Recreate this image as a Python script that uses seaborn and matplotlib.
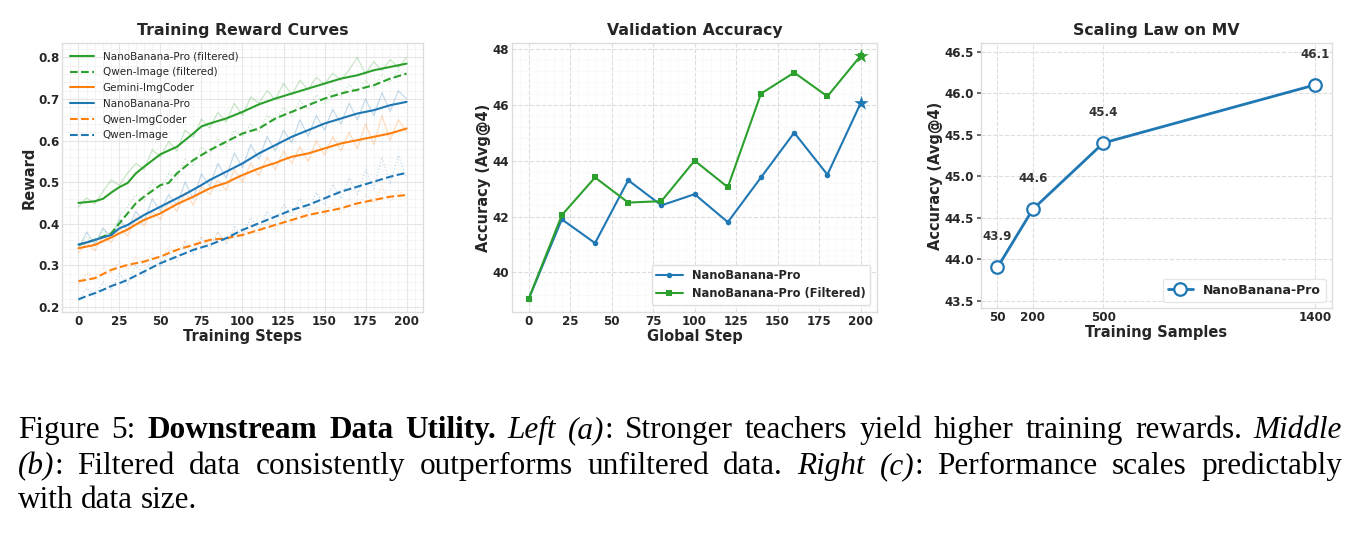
import numpy as np
import pandas as pd
import matplotlib
matplotlib.use('Agg')
import matplotlib.pyplot as plt
import seaborn as sns
from matplotlib.ticker import AutoMinorLocator, MultipleLocator

# ---------------- data ----------------
# (a) training reward curves, read every 5 steps
steps = list(range(0, 201, 5))

nb_filt_smooth = [.450, .452, .454, .460, .475, .488, .498, .521, .537, .552, .567, .576, .585, .601,
                  .617, .634, .641, .647, .653, .661, .669, .678, .687, .694, .701, .707, .713, .719,
                  .725, .731, .737, .743, .749, .753, .757, .763, .769, .773, .777, .781, .785]
nb_filt_raw = [.440, .462, .448, .478, .505, .492, .522, .545, .530, .578, .560, .598, .575, .625,
               .608, .652, .630, .668, .645, .690, .660, .705, .690, .720, .698, .738, .710, .745,
               .722, .752, .735, .762, .745, .770, .800, .760, .790, .768, .795, .775, .800]

qi_filt_smooth = [.349, .355, .361, .369, .377, .401, .425, .449, .465, .479, .493, .498, .521, .537,
                  .553, .565, .577, .587, .597, .607, .617, .623, .629, .641, .653, .661, .669, .677,
                  .685, .693, .701, .707, .713, .718, .722, .728, .733, .741, .749, .755, .761]
qi_filt_raw = [.340, .368, .352, .385, .372, .420, .440, .470, .455, .500, .485, .520, .510, .555,
               .540, .585, .565, .605, .585, .625, .610, .640, .620, .660, .645, .680, .660, .695,
               .675, .710, .690, .725, .705, .735, .715, .745, .725, .760, .740, .770, .755]

gem_smooth = [.341, .345, .349, .358, .367, .377, .386, .398, .409, .417, .425, .436, .447, .456,
              .465, .475, .485, .492, .498, .508, .517, .525, .533, .540, .546, .554, .561, .565,
              .569, .575, .581, .587, .593, .597, .601, .605, .609, .613, .617, .623, .629]
gem_raw = [.330, .355, .335, .370, .355, .390, .370, .415, .395, .430, .410, .455, .430, .475,
           .445, .490, .470, .505, .480, .530, .500, .545, .515, .560, .530, .575, .545, .585,
           .550, .600, .565, .610, .575, .620, .580, .640, .590, .660, .600, .650, .620]

nb_smooth = [.350, .355, .361, .367, .373, .389, .397, .409, .421, .431, .441, .451, .461, .471,
             .482, .493, .505, .515, .525, .535, .545, .557, .569, .579, .589, .599, .609, .617,
             .625, .633, .641, .647, .653, .659, .665, .669, .673, .679, .685, .689, .693]
nb_raw = [.340, .380, .350, .390, .365, .410, .385, .430, .405, .460, .430, .470, .445, .500,
          .460, .520, .490, .545, .510, .570, .535, .590, .555, .610, .575, .625, .595, .650,
          .610, .660, .625, .675, .640, .690, .650, .700, .660, .715, .670, .720, .700]

qic_smooth = [.262, .265, .269, .279, .289, .295, .301, .305, .309, .315, .321, .329, .337, .343,
              .349, .355, .361, .363, .365, .369, .373, .379, .385, .391, .397, .403, .409, .415,
              .421, .425, .429, .433, .437, .443, .449, .453, .457, .461, .465, .467, .469]
qic_raw = [.255, .280, .270, .295, .280, .310, .290, .320, .300, .330, .310, .345, .330, .360,
           .340, .370, .350, .380, .355, .385, .365, .395, .375, .405, .385, .420, .400, .430,
           .410, .440, .420, .450, .425, .460, .440, .470, .450, .490, .455, .480, .460]

qi_smooth = [.218, .226, .233, .241, .250, .257, .265, .275, .285, .295, .305, .313, .321, .329,
             .337, .343, .349, .357, .365, .375, .385, .393, .401, .409, .417, .425, .433, .439,
             .445, .453, .461, .469, .477, .483, .489, .495, .501, .507, .513, .518, .522]
qi_raw = [.215, .245, .225, .260, .240, .280, .255, .300, .275, .320, .295, .335, .310, .355,
          .325, .365, .340, .380, .350, .395, .370, .415, .385, .430, .400, .445, .420, .460,
          .430, .475, .445, .495, .460, .510, .470, .530, .485, .560, .495, .565, .510]

# (b) validation accuracy
global_steps = [0, 20, 40, 60, 80, 100, 120, 140, 160, 180, 200]
val_nb = [39.05, 41.9, 41.05, 43.3, 42.4, 42.8, 41.8, 43.4, 45.0, 43.5, 46.05]
val_nb_filt = [39.05, 42.05, 43.4, 42.5, 42.55, 44.0, 43.05, 46.4, 47.15, 46.3, 47.75]

# (c) scaling law
samples = [50, 200, 500, 1400]
mv_acc = [43.9, 44.6, 45.4, 46.1]

BLUE, ORANGE, GREEN = '#1f77b4', '#ff7f0e', '#2ca02c'

curves = [  # label, smooth, raw, color, dashed
    ('NanoBanana-Pro (filtered)', nb_filt_smooth, nb_filt_raw, GREEN, False),
    ('Qwen-Image (filtered)', qi_filt_smooth, qi_filt_raw, GREEN, True),
    ('Gemini-ImgCoder', gem_smooth, gem_raw, ORANGE, False),
    ('NanoBanana-Pro', nb_smooth, nb_raw, BLUE, False),
    ('Qwen-ImgCoder', qic_smooth, qic_raw, ORANGE, True),
    ('Qwen-Image', qi_smooth, qi_raw, BLUE, True),
]

# ---------------- style ----------------
sns.set_theme(style='whitegrid')
plt.rcParams.update({
    'font.family': ['DejaVu Sans'],
    'axes.edgecolor': '#dddddd',
    'axes.linewidth': 1.0,
    'text.color': '#262626',
    'axes.labelcolor': '#262626',
    'xtick.color': '#262626',
    'ytick.color': '#262626',
})

fig = plt.figure(figsize=(13.6, 5.34), dpi=100)
ax1 = fig.add_axes([0.0456, 0.416, 0.2654, 0.503])
ax2 = fig.add_axes([0.3765, 0.416, 0.2685, 0.503])
ax3 = fig.add_axes([0.7213, 0.423, 0.2581, 0.496])

TITLE = dict(fontsize=11.3, fontweight='bold', pad=6)
LABEL = dict(fontsize=10.5, fontweight='bold', labelpad=1)


def style_ticks(ax):
    for t in ax.get_xticklabels() + ax.get_yticklabels():
        t.set_fontweight('bold')
        t.set_fontsize(8.6)
    ax.tick_params(axis='both', which='both', length=0, pad=2)


# ---- (a) ----
for label, sm, raw, col, dashed in curves:
    sns.lineplot(x=steps, y=raw, ax=ax1, color=col, lw=0.9, alpha=0.25,
                 linestyle=':' if dashed else '-', legend=False)
for label, sm, raw, col, dashed in curves:
    sns.lineplot(x=steps, y=sm, ax=ax1, color=col, lw=1.5,
                 linestyle='--' if dashed else '-', label=label)
ax1.set_xlim(-10, 210)
ax1.set_ylim(0.188, 0.834)
ax1.xaxis.set_major_locator(MultipleLocator(25))
ax1.yaxis.set_major_locator(MultipleLocator(0.1))
ax1.xaxis.set_minor_locator(AutoMinorLocator(5))
ax1.yaxis.set_minor_locator(AutoMinorLocator(5))
ax1.grid(which='major', color='#e6e6e6', lw=0.8)
ax1.grid(which='minor', color='#f2f2f2', lw=0.5)
ax1.set_title('Training Reward Curves', **TITLE)
ax1.set_xlabel('Training Steps', **LABEL)
ax1.set_ylabel('Reward', **LABEL)
style_ticks(ax1)
ax1.legend(loc='upper left', fontsize=7.5, frameon=False, handlelength=2.3,
           borderaxespad=0.5, labelspacing=0.55, borderpad=0.3)

# ---- (b) ----
sns.lineplot(x=global_steps, y=val_nb, ax=ax2, color=BLUE, lw=1.5, marker='o',
             markersize=4, markeredgewidth=0, label='NanoBanana-Pro')
sns.lineplot(x=global_steps, y=val_nb_filt, ax=ax2, color=GREEN, lw=1.5, marker='s',
             markersize=4.5, markeredgewidth=0, label='NanoBanana-Pro (Filtered)')
sns.scatterplot(x=global_steps[-1:], y=val_nb[-1:], ax=ax2, color=BLUE, marker='*',
                s=120, linewidth=0, legend=False, zorder=5)
sns.scatterplot(x=global_steps[-1:], y=val_nb_filt[-1:], ax=ax2, color=GREEN, marker='*',
                s=120, linewidth=0, legend=False, zorder=5)
ax2.set_xlim(-10, 210)
ax2.set_ylim(38.59, 48.2)
ax2.xaxis.set_major_locator(MultipleLocator(25))
ax2.yaxis.set_major_locator(MultipleLocator(2))
ax2.xaxis.set_minor_locator(AutoMinorLocator(5))
ax2.yaxis.set_minor_locator(AutoMinorLocator(5))
ax2.grid(which='major', color='#dddddd', lw=0.8, linestyle='--')
ax2.grid(which='minor', color='#eeeeee', lw=0.5, linestyle=':')
ax2.set_title('Validation Accuracy', **TITLE)
ax2.set_xlabel('Global Step', **LABEL)
ax2.set_ylabel('Accuracy (Avg@4)', **LABEL)
style_ticks(ax2)
ax2.legend(loc='lower right', prop=dict(weight='bold', size=8.3), frameon=True,
           facecolor='white', edgecolor='#e0e0e0', framealpha=1, handlelength=2.3,
           borderaxespad=0.6, labelspacing=0.45)

# ---- (c) ----
sns.lineplot(x=samples, y=mv_acc, ax=ax3, color=BLUE, lw=2.0, marker='o', markersize=9,
             markerfacecolor='white', markeredgecolor=BLUE, markeredgewidth=1.6,
             label='NanoBanana-Pro')
for xs, ys in zip(samples, mv_acc):
    ax3.annotate(f'{ys:.1f}', (xs, ys), xytext=(0, 22), textcoords='offset points',
                 ha='center', va='center', fontsize=8.6, fontweight='bold', color='#333333')
ax3.set_xlim(-20, 1470)
ax3.set_ylim(43.41, 46.60)
ax3.set_xticks(samples)
ax3.yaxis.set_major_locator(MultipleLocator(0.5))
ax3.grid(which='major', color='#dddddd', lw=0.8, linestyle='--')
ax3.set_title('Scaling Law on MV', **TITLE)
ax3.set_xlabel('Training Samples', **LABEL)
ax3.set_ylabel('Accuracy (Avg@4)', **LABEL)
style_ticks(ax3)
ax3.tick_params(axis='y', left=True, length=3, color='#555555', pad=2)
ax3.legend(loc='lower right', prop=dict(weight='bold', size=9), frameon=True,
           facecolor='white', edgecolor='#e6e6e6', framealpha=1, handlelength=2.0)

# ---------------- caption ----------------
cap_lines = [
    ([('Figure 5: ', 'n'), ('Downstream Data Utility.', 'b'), (' Left (a)', 'i'),
      (': Stronger teachers yield higher training rewards.', 'n'), (' Middle', 'i')], True),
    ([('(b)', 'i'), (': Filtered data consistently outperforms unfiltered data.', 'n'),
      (' Right (c)', 'i'), (': Performance scales predictably', 'n')], True),
    ([('with data size.', 'n')], False),
]
CAP_FONT = 'Liberation Serif'
CAP_SIZE = 22.5
renderer = fig.canvas.get_renderer()
W, H = fig.get_size_inches() * fig.dpi


def cap_text(s, st):
    return fig.text(0, 0, s, fontsize=CAP_SIZE, family=CAP_FONT, color='black',
                    fontweight='bold' if st == 'b' else 'normal',
                    fontstyle='italic' if st == 'i' else 'normal', va='baseline')


def draw_caption_line(runs, base_px, justify, x0=18, x1=1342):
    words, cur = [], []
    for text, st in runs:
        for i, p in enumerate(text.split(' ')):
            if i > 0 and cur:
                words.append(cur)
                cur = []
            if p:
                cur.append((p, st))
    if cur:
        words.append(cur)
    placed = []
    for w in words:
        segs = []
        for s, st in w:
            t = cap_text(s, st)
            segs.append((t, t.get_window_extent(renderer).width))
        placed.append(segs)
    widths = [sum(wd for _, wd in segs) for segs in placed]
    probe = cap_text('a a', 'n')
    probe2 = cap_text('aa', 'n')
    space = probe.get_window_extent(renderer).width - probe2.get_window_extent(renderer).width
    probe.remove()
    probe2.remove()
    if justify and len(words) > 1:
        gap = (x1 - x0 - sum(widths)) / (len(words) - 1)
    else:
        gap = space
    x = x0
    for segs in placed:
        for t, wd in segs:
            t.set_position((x / W, 1 - base_px / H))
            x += wd
        x += gap


for (runs, just), base in zip(cap_lines, [438, 474, 508]):
    draw_caption_line(runs, base, just)

fig.savefig('out.png', dpi=100)
